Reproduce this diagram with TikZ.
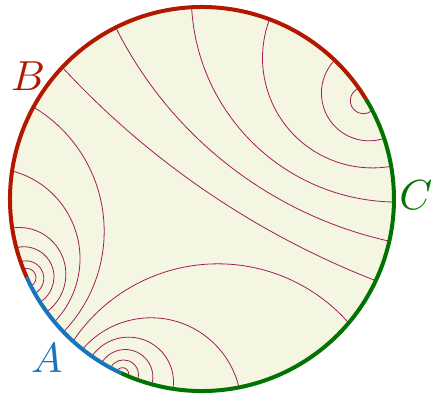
\documentclass[tikz,border=0pt]{standalone}
\usepackage{tikz}
\definecolor{diskfill}{RGB}{245,246,226}
\definecolor{redc}{RGB}{178,24,0}
\definecolor{greenc}{RGB}{0,115,0}
\definecolor{bluec}{RGB}{24,116,188}
\definecolor{leafc}{RGB}{160,28,90}
% geodesic (circle orthogonal to the rim) between two rim angles
\newcommand\geoleaf[2]{%
 \pgfmathsetmacro\gM{(#1+#2)/2}%
 \pgfmathsetmacro\gH{abs(#2-#1)/2}%
 \pgfmathsetmacro\gD{192/cos(\gH)}%
 \pgfmathsetmacro\gR{192*tan(\gH)}%
 \pgfmathsetmacro\gS{\gM+90+\gH}%
 \pgfmathsetmacro\gE{\gM+270-\gH}%
 \draw[leaf] (\gM:\gD) ++(\gS:\gR) arc[start angle=\gS, end angle=\gE, radius=\gR pt];%
}
% circle arc through rim angle #1, pixel point (#2,#3), rim angle #4
\newcommand\tpleaf[4]{%
 \pgfmathsetmacro\qAx{1.92*cos(#1)}%
 \pgfmathsetmacro\qAy{1.92*sin(#1)}%
 \pgfmathsetmacro\qBx{(#2-202)/100}%
 \pgfmathsetmacro\qBy{(199-#3)/100}%
 \pgfmathsetmacro\qCx{1.92*cos(#4)}%
 \pgfmathsetmacro\qCy{1.92*sin(#4)}%
 \pgfmathsetmacro\qD{2*(\qAx*(\qBy-\qCy)+\qBx*(\qCy-\qAy)+\qCx*(\qAy-\qBy))}%
 \pgfmathsetmacro\qSa{\qAx*\qAx+\qAy*\qAy}%
 \pgfmathsetmacro\qSb{\qBx*\qBx+\qBy*\qBy}%
 \pgfmathsetmacro\qSc{\qCx*\qCx+\qCy*\qCy}%
 \pgfmathsetmacro\qUx{(\qSa*(\qBy-\qCy)+\qSb*(\qCy-\qAy)+\qSc*(\qAy-\qBy))/\qD}%
 \pgfmathsetmacro\qUy{(\qSa*(\qCx-\qBx)+\qSb*(\qAx-\qCx)+\qSc*(\qBx-\qAx))/\qD}%
 \pgfmathsetmacro\qR{100*veclen(\qAx-\qUx,\qAy-\qUy)}%
 \pgfmathsetmacro\qTa{atan2(\qAy-\qUy,\qAx-\qUx)}%
 \pgfmathsetmacro\qTb{atan2(\qBy-\qUy,\qBx-\qUx)}%
 \pgfmathsetmacro\qTc{atan2(\qCy-\qUy,\qCx-\qUx)}%
 \pgfmathsetmacro\qDb{Mod(\qTb-\qTa,360)}%
 \pgfmathsetmacro\qDc{Mod(\qTc-\qTa,360)}%
 \pgfmathsetmacro\qTe{\qDb<\qDc ? \qTa+\qDc : \qTa+\qDc-360}%
 \pgfmathsetmacro\qPx{\qUx*100}%
 \pgfmathsetmacro\qPy{\qUy*100}%
 \draw[leaf] (\qPx,\qPy) ++(\qTa:\qR) arc[start angle=\qTa, end angle=\qTe, radius=\qR pt];%
}
\begin{document}
\begin{tikzpicture}[x=1pt,y=1pt,
  leaf/.style={draw=leafc,line width=0.8pt},
  rim/.style={line width=4pt},
  lab/.style={font=\normalsize,scale=4.2,inner sep=0pt}]
\useasboundingbox (-202,-196) rectangle (229,199);
\fill[diskfill] (0,0) circle[radius=192pt];
% family around the A/B junction
\geoleaf{201.4}{207.0}
\geoleaf{199.1}{209.5}
\geoleaf{194.7}{212.5}
\geoleaf{188.7}{216}
\tpleaf{171.6}{80}{257}{219.8}
\tpleaf{151.4}{104}{224}{223.8}
% family around the A/C junction
\geoleaf{243.7}{247.4}
\geoleaf{241.5}{250.4}
\geoleaf{238.5}{254.9}
\geoleaf{235}{261.3}
\tpleaf{231.5}{145}{318}{281.1}
\tpleaf{227.8}{210}{264}{319.8}
% family around the B/C junction
\tpleaf{27.5}{350.5}{103}{35.2}
\geoleaf{18.4}{46.3}
\geoleaf{9.8}{69.4}
\geoleaf{-0.9}{93.1}
\tpleaf{-12.7}{250}{181}{116.7}
\tpleaf{-25.2}{213}{196}{136.7}
% rim
\draw[rim,redc] (31.3:192) arc[start angle=31.3,end angle=204.1,radius=192pt];
\draw[rim,bluec] (204.1:192) arc[start angle=204.1,end angle=245,radius=192pt];
\draw[rim,greenc] (245:192) arc[start angle=245,end angle=391.3,radius=192pt];
\node[lab,text=bluec] (labA) at (-155,-159) {$A$};
\node[lab,text=redc] (labB) at (-174,123) {$B$};
\node[lab,text=greenc] (labC) at (214,4) {$C$};
\end{tikzpicture}
\end{document}
